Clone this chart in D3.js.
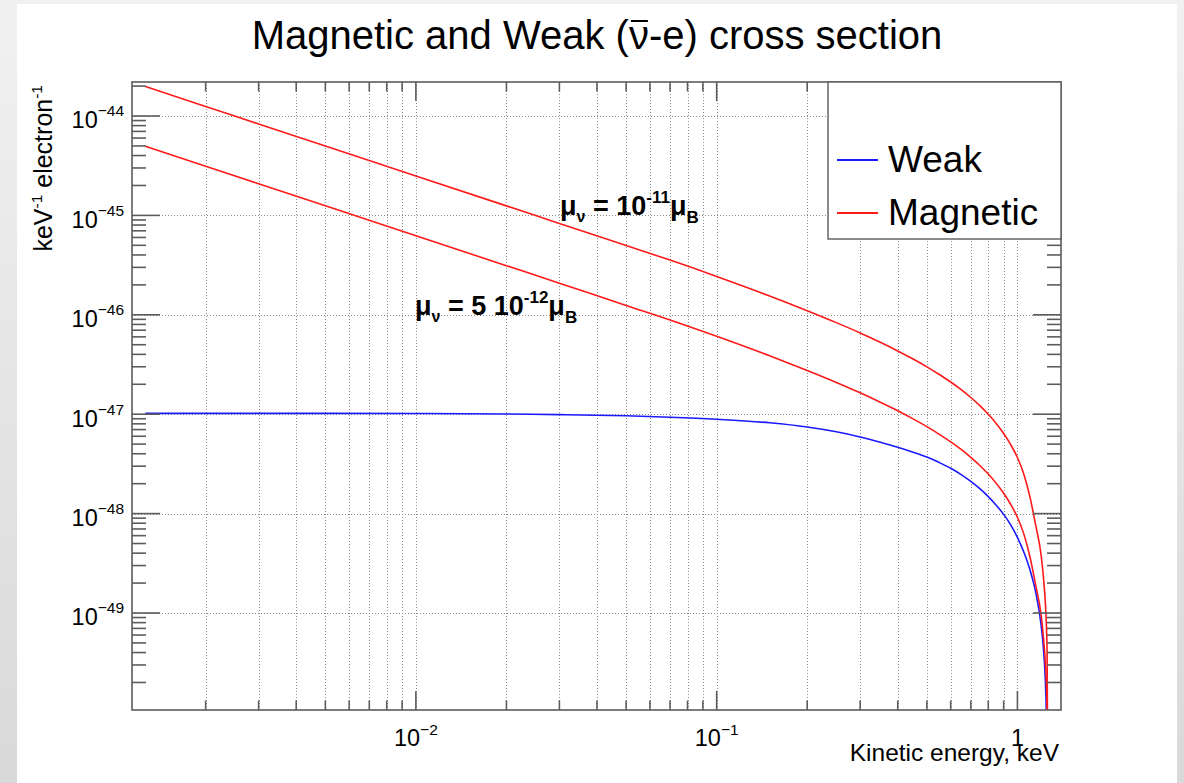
<!DOCTYPE html>
<html>
<head>
<meta charset="utf-8">
<script src="https://cdn.jsdelivr.net/npm/d3@7"></script>
<style>
  html, body { margin: 0; padding: 0; background: #fff; }
  svg { display: block; font-family: "Liberation Sans", Arial, Helvetica, sans-serif; }
</style>
</head>
<body>
<svg id="chart" width="1184" height="783"></svg>
<script>
// Electron recoil kinetic energy, keV
const energy = [0.00126, 0.002, 0.003, 0.005, 0.01, 0.02, 0.03, 0.05, 0.07, 0.1,
  0.15, 0.2, 0.25, 0.3, 0.35, 0.4, 0.45, 0.5, 0.55, 0.6,
  0.65, 0.7, 0.75, 0.8, 0.85, 0.9, 0.95, 1.0, 1.05, 1.1,
  1.15, 1.2, 1.22, 1.24, 1.25, 1.255, 1.26];

// Weak (anti-nu - e) differential cross section, cm^2 keV^-1 electron^-1
const weak = [1.02e-47, 1.02e-47, 1.02e-47, 1.02e-47, 1.016e-47, 1.005e-47, 9.91e-48, 9.64e-48, 9.33e-48, 8.89e-48,
  8.19e-48, 7.43e-48, 6.65e-48, 5.9e-48, 5.23e-48, 4.66e-48, 4.15e-48, 3.7e-48, 3.26e-48, 2.86e-48,
  2.47e-48, 2.11e-48, 1.78e-48, 1.48e-48, 1.215e-48, 9.82e-49, 7.69e-49, 5.76e-49, 4.1e-49, 2.74e-49,
  1.62e-49, 7.36e-50, 4.42e-50, 1.84e-50, 7e-51, 2e-51, 5e-52];

// Magnetic cross section, mu_nu = 1e-11 mu_B
const magnetic11 = [1.98e-44, 1.2475e-44, 8.32e-45, 4.99e-45, 2.495e-45, 1.247e-45, 8.31e-46, 4.97e-46, 3.55e-46, 2.433e-46,
  1.547e-46, 1.1e-46, 8.34e-47, 6.57e-47, 5.29e-47, 4.33e-47, 3.587e-47, 2.994e-47, 2.508e-47, 2.108e-47,
  1.766e-47, 1.472e-47, 1.218e-47, 9.98e-48, 8.07e-48, 6.4e-48, 4.94e-48, 3.67e-48, 2.5e-48, 1.48e-48,
  7.64e-49, 3.74e-49, 2.3e-49, 1.175e-49, 6.75e-50, 4.06e-50, 5e-51];

// Magnetic cross section, mu_nu = 5e-12 mu_B
const magnetic5 = [4.95e-45, 3.12e-45, 2.08e-45, 1.248e-45, 6.24e-46, 3.12e-46, 2.08e-46, 1.243e-46, 8.88e-47, 6.08e-47,
  3.87e-47, 2.75e-47, 2.085e-47, 1.64e-47, 1.32e-47, 1.083e-47, 8.97e-48, 7.49e-48, 6.27e-48, 5.27e-48,
  4.42e-48, 3.68e-48, 3.05e-48, 2.5e-48, 2.02e-48, 1.6e-48, 1.235e-48, 9.18e-49, 6.25e-49, 3.7e-49,
  1.91e-49, 9.35e-50, 5.75e-50, 2.94e-50, 1.69e-50, 1.015e-50, 1.25e-51];

// Axis ranges
const xRange = [1.138e-3, 1.396];
const yRange = [1.057e-50, 2.198e-44];

// Labelled ticks
const xLabelValues = [0.01, 0.1, 1];
const xLabelMantissa = ["10", "10", "1"];
const xLabelExponent = ["\u22122", "\u22121", ""];
const yLabelValues = [1e-44, 1e-45, 1e-46, 1e-47, 1e-48, 1e-49];
const yLabelExponent = ["\u221244", "\u221245", "\u221246", "\u221247", "\u221248", "\u221249"];

const seriesNames = ["Weak", "Magnetic"];
const seriesColors = ["#1a1aff", "#ff1a1a"];

const svg = d3.select("#chart");
const W = 1184, H = 783;
const plot = { left: 132, right: 1061, top: 82, bottom: 710 };

const x = d3.scaleLog().domain(xRange).range([plot.left, plot.right]);
const y = d3.scaleLog().domain(yRange).range([plot.bottom, plot.top]);

// page background with window edges
const defs = svg.append("defs");
const gL = defs.append("linearGradient").attr("id", "edgeL").attr("x1", 0).attr("y1", 0).attr("x2", 0).attr("y2", 1);
gL.append("stop").attr("offset", "0%").attr("stop-color", "#f1f1f1");
gL.append("stop").attr("offset", "100%").attr("stop-color", "#d9d9d9");
defs.append("clipPath").attr("id", "plotClip").append("rect")
  .attr("x", plot.left).attr("y", plot.top)
  .attr("width", plot.right - plot.left).attr("height", plot.bottom - plot.top);

svg.append("rect").attr("width", W).attr("height", H).attr("fill", "#ffffff");
svg.append("rect").attr("x", 0).attr("y", 0).attr("width", W).attr("height", 4).attr("fill", "#f0f0f0");
svg.append("rect").attr("x", 0).attr("y", 0).attr("width", 17).attr("height", H).attr("fill", "url(#edgeL)");
svg.append("rect").attr("x", 1177).attr("y", 0).attr("width", 7).attr("height", H).attr("fill", "url(#edgeL)");

// tick positions: 1..9 within each decade
function logTicks(domain) {
  const out = [];
  const e0 = Math.floor(Math.log10(domain[0])), e1 = Math.ceil(Math.log10(domain[1]));
  for (let e = e0; e <= e1; e++) {
    for (let m = 1; m <= 9; m++) {
      const v = m * Math.pow(10, e);
      if (v >= domain[0] * 0.9999 && v <= domain[1] * 1.0001) out.push({ v, major: m === 1 });
    }
  }
  return out;
}
const xTicks = logTicks(xRange);
const yTicks = logTicks(yRange);

// grid
const grid = svg.append("g").attr("stroke", "#8a8a8a").attr("stroke-width", 1).attr("stroke-dasharray", "1,2");
grid.selectAll("line.gx").data(xTicks).join("line")
  .attr("x1", d => Math.round(x(d.v)) + 0.5).attr("x2", d => Math.round(x(d.v)) + 0.5)
  .attr("y1", plot.top).attr("y2", plot.bottom);
grid.selectAll("line.gy").data(yTicks.filter(d => d.major)).join("line")
  .attr("x1", plot.left).attr("x2", plot.right)
  .attr("y1", d => Math.round(y(d.v)) + 0.5).attr("y2", d => Math.round(y(d.v)) + 0.5);

// curves
const line = d3.line()
  .x(d => x(d[0]))
  .y(d => y(d[1]))
  .curve(d3.curveMonotoneX);
const curves = svg.append("g").attr("clip-path", "url(#plotClip)").attr("fill", "none").attr("stroke-width", 1.6);
curves.append("path").attr("d", line(energy.map((e, i) => [e, weak[i]]))).attr("stroke", seriesColors[0]);
curves.append("path").attr("d", line(energy.map((e, i) => [e, magnetic5[i]]))).attr("stroke", seriesColors[1]);
curves.append("path").attr("d", line(energy.map((e, i) => [e, magnetic11[i]]))).attr("stroke", seriesColors[1]);

// frame
svg.append("rect").attr("x", plot.left).attr("y", plot.top)
  .attr("width", plot.right - plot.left).attr("height", plot.bottom - plot.top)
  .attr("fill", "none").attr("stroke", "#5c5c5c").attr("stroke-width", 1.6);

// tick marks on all four sides
const ticks = svg.append("g").attr("stroke", "#5c5c5c").attr("stroke-width", 1.6);
const xLen = d => d.major ? 19 : 9.5;
const yLen = d => d.major ? 28 : 14;
ticks.selectAll("line.xb").data(xTicks).join("line")
  .attr("x1", d => x(d.v)).attr("x2", d => x(d.v))
  .attr("y1", plot.bottom).attr("y2", d => plot.bottom - xLen(d));
ticks.selectAll("line.xt").data(xTicks).join("line")
  .attr("x1", d => x(d.v)).attr("x2", d => x(d.v))
  .attr("y1", plot.top).attr("y2", d => plot.top + xLen(d));
ticks.selectAll("line.yl").data(yTicks).join("line")
  .attr("y1", d => y(d.v)).attr("y2", d => y(d.v))
  .attr("x1", plot.left).attr("x2", d => plot.left + yLen(d));
ticks.selectAll("line.yr").data(yTicks).join("line")
  .attr("y1", d => y(d.v)).attr("y2", d => y(d.v))
  .attr("x1", plot.right).attr("x2", d => plot.right - yLen(d));

// y tick labels
const yl = svg.append("g").attr("fill", "#000");
yLabelValues.forEach((v, i) => {
  const t = yl.append("text").attr("x", 124).attr("y", y(v) + 12.5).attr("text-anchor", "end");
  t.append("tspan").attr("font-size", 23.5).text("10");
  t.append("tspan").attr("font-size", 15.5).attr("dy", -12).text(yLabelExponent[i]);
});

// x tick labels
xLabelValues.forEach((v, i) => {
  const t = yl.append("text").attr("x", x(v)).attr("y", 746).attr("text-anchor", "middle");
  t.append("tspan").attr("font-size", 23.5).text(xLabelMantissa[i]);
  if (xLabelExponent[i]) t.append("tspan").attr("font-size", 15.5).attr("dy", -11).text(xLabelExponent[i]);
});

// axis titles
svg.append("text").attr("x", 1059).attr("y", 761).attr("text-anchor", "end")
  .attr("font-size", 24.5).text("Kinetic energy, keV");
const yt = svg.append("text").attr("transform", "translate(52,85) rotate(-90)").attr("text-anchor", "end");
yt.append("tspan").attr("font-size", 25).text("keV");
yt.append("tspan").attr("font-size", 15.5).attr("dy", -10).text("-1");
yt.append("tspan").attr("font-size", 25).attr("dy", 10).text(" electron");
yt.append("tspan").attr("font-size", 15.5).attr("dy", -10).text("-1");

// title, with a bar drawn over the nu
const titleSize = 40, titleBase = 49;
const titleText = "Magnetic and Weak (\u03BD-e) cross section";
const title = svg.append("text").attr("x", 597).attr("y", titleBase)
  .attr("text-anchor", "middle").attr("font-size", titleSize).text(titleText);
const nuBox = title.node().getExtentOfChar(titleText.indexOf("\u03BD"));
svg.append("line")
  .attr("x1", nuBox.x + 2).attr("x2", nuBox.x + nuBox.width - 1)
  .attr("y1", titleBase - 0.7 * titleSize).attr("y2", titleBase - 0.7 * titleSize)
  .attr("stroke", "#000").attr("stroke-width", 2);

// curve annotations
function muLabel(xp, yp, mid, exp) {
  const t = svg.append("text").attr("x", xp).attr("y", yp).attr("font-weight", "bold");
  t.append("tspan").attr("font-size", 27).text("\u03BC");
  t.append("tspan").attr("font-size", 16).attr("dy", 7).text("\u03BD");
  t.append("tspan").attr("font-size", 27).attr("dy", -7).text(mid);
  t.append("tspan").attr("font-size", 17).attr("dy", -12).text(exp);
  t.append("tspan").attr("font-size", 27).attr("dy", 12).text("\u03BC");
  t.append("tspan").attr("font-size", 17).attr("dy", 8).text("B");
}
muLabel(560, 215, " = 10", "-11");
muLabel(415, 315, " = 5 10", "-12");

// legend
const lg = svg.append("g");
lg.append("rect").attr("x", 828).attr("y", 82).attr("width", 233).attr("height", 157)
  .attr("fill", "#fff").attr("stroke", "#5c5c5c").attr("stroke-width", 1.4);
const legendY = [160, 213];
seriesNames.forEach((name, i) => {
  lg.append("line").attr("x1", 837).attr("x2", 878).attr("y1", legendY[i]).attr("y2", legendY[i])
    .attr("stroke", seriesColors[i]).attr("stroke-width", 2);
  lg.append("text").attr("x", 888).attr("y", legendY[i] + 12).attr("font-size", 37).text(name);
});
</script>
</body>
</html>
